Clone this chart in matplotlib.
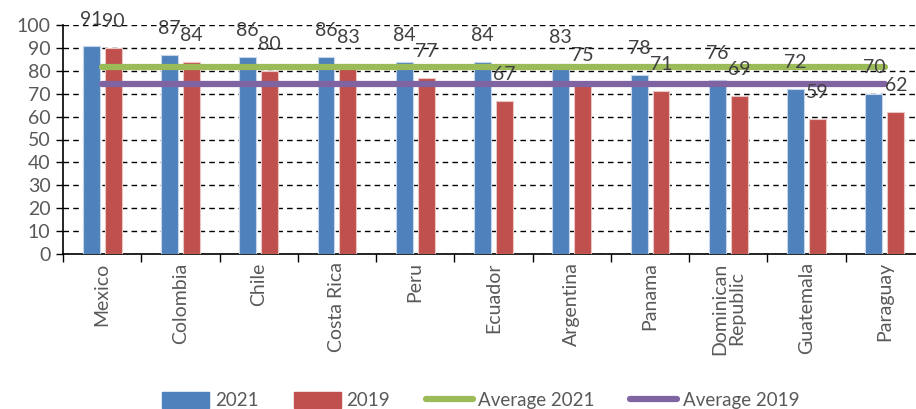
import numpy as np
from matplotlib import pyplot as plt
from matplotlib.lines import Line2D
from matplotlib.patches import Patch

countries = ['Mexico', 'Colombia', 'Chile', 'Costa Rica', 'Peru', 'Ecuador',
             'Argentina', 'Panama', 'Dominican\nRepublic', 'Guatemala', 'Paraguay']
v2021 = [91, 87, 86, 86, 84, 84, 83, 78, 76, 72, 70]
v2019 = [90, 84, 80, 83, 77, 67, 75, 71, 69, 59, 62]
avg2021 = 81.5
avg2019 = 74.2

BLUE = '#4F81BD'
RED = '#C0504D'
GREEN = '#9BBB59'
PURPLE = '#8064A2'
GREY = '#595959'

plt.rcParams['font.family'] = ['Lato', 'DejaVu Sans']

fig = plt.figure(figsize=(9.16, 4.09), dpi=100)
ax = fig.add_axes([63 / 916, 155 / 409, 861 / 916, 229 / 409])

x = np.arange(len(countries))
w = 0.217
off = 0.14
ax.bar(x - off, v2021, w, color=BLUE, edgecolor='#c8d6ea', linewidth=0.8, zorder=3)
ax.bar(x + off, v2019, w, color=RED, edgecolor='#ebc6c5', linewidth=0.8, zorder=3)

ax.plot([x[0], x[-1]], [avg2021, avg2021], color=GREEN, lw=4.5,
        solid_capstyle='round', zorder=4)
ax.plot([x[0], x[-1]], [avg2019, avg2019], color=PURPLE, lw=4.5,
        solid_capstyle='round', zorder=4)

for i in range(len(x)):
    ax.annotate(str(v2021[i]), (x[i] - off, v2021[i]), xytext=(0, 13),
                textcoords='offset points', ha='center', va='bottom',
                fontsize=14, color='#404040', zorder=5)
    ax.annotate(str(v2019[i]), (x[i] + off, v2019[i]), xytext=(0, 13),
                textcoords='offset points', ha='center', va='bottom',
                fontsize=14, color='#404040', zorder=5)

ax.set_xlim(-0.5, len(x) - 0.5)
ax.set_ylim(0, 100)
ax.set_yticks(range(0, 101, 10))
ax.yaxis.grid(True, linestyle=(0, (4, 3)), color='black', lw=1, zorder=0)
ax.set_axisbelow(True)

ax.set_xticks(x)
ax.set_xticklabels(countries, rotation=90, fontsize=14, color=GREY,
                   linespacing=1.0)
ax.set_xticks(np.arange(-0.5, len(x), 1), minor=True)
ax.tick_params(axis='x', which='major', length=0, pad=6)
ax.tick_params(axis='x', which='minor', length=6, width=1, color='black')
ax.tick_params(axis='y', length=5, width=1, labelsize=14, labelcolor=GREY,
               pad=4)

for s in ['top', 'right']:
    ax.spines[s].set_visible(False)
ax.spines['left'].set_linewidth(1.2)
ax.spines['bottom'].set_linewidth(1.2)

handles = [Patch(color=BLUE), Patch(color=RED),
           Line2D([], [], color=GREEN, lw=4.5, solid_capstyle='round'),
           Line2D([], [], color=PURPLE, lw=4.5, solid_capstyle='round')]
labels = ['2021', '2019', 'Average 2021', 'Average 2019']
leg = fig.legend(handles, labels, loc='center', bbox_to_anchor=(0.525, 0.02),
                 ncol=4, frameon=False, fontsize=13.5, handlelength=2.5,
                 handleheight=0.9, handletextpad=0.3, columnspacing=1.9)
for t in leg.get_texts():
    t.set_color(GREY)

fig.savefig('out.png', dpi=100)
